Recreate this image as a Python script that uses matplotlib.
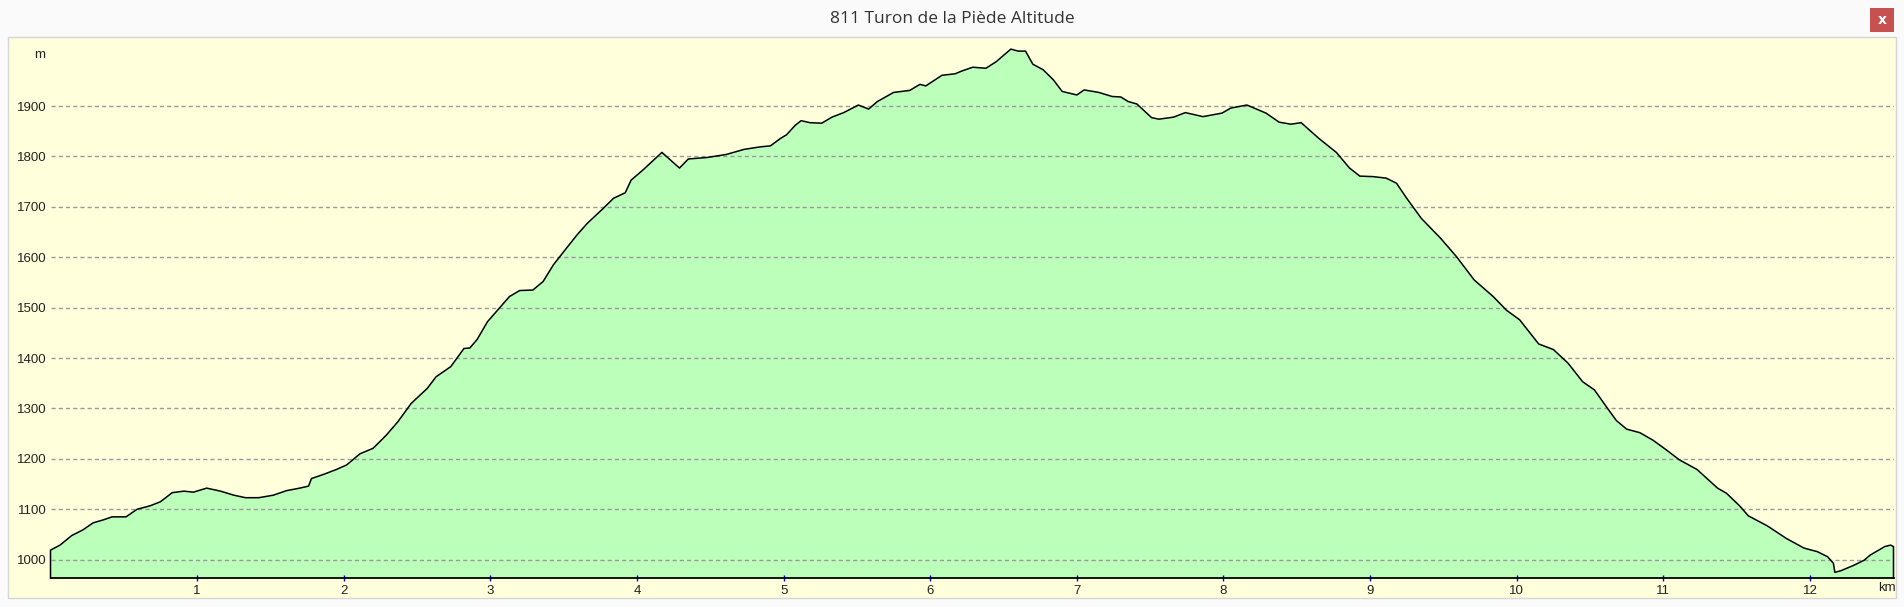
import matplotlib
matplotlib.use("Agg")
import matplotlib.pyplot as plt
from matplotlib.patches import Rectangle

# --- datos del perfil ---
km = [0.00, 0.065, 0.145, 0.22, 0.29, 0.36, 0.42, 0.515, 0.59, 0.68, 0.75, 0.83,
      0.91, 0.975, 1.065, 1.16, 1.25, 1.33, 1.42, 1.52, 1.61, 1.70, 1.76, 1.78,
      1.86, 1.95, 2.02, 2.11, 2.20, 2.29, 2.37, 2.46, 2.57, 2.63, 2.73, 2.82,
      2.86, 2.91, 2.98, 3.07, 3.13, 3.20, 3.29, 3.36, 3.43, 3.50, 3.59, 3.66,
      3.77, 3.84, 3.92, 3.96, 4.04, 4.11, 4.17, 4.29, 4.35, 4.48, 4.61, 4.73,
      4.84, 4.91, 4.98, 5.02, 5.08, 5.12, 5.18, 5.26, 5.33, 5.41, 5.51, 5.58,
      5.64, 5.75, 5.86, 5.93, 5.97, 6.08, 6.17, 6.22, 6.29, 6.38, 6.45, 6.51,
      6.55, 6.60, 6.65, 6.70, 6.77, 6.84, 6.90, 7.00, 7.05, 7.15, 7.24, 7.30,
      7.35, 7.41, 7.51, 7.56, 7.66, 7.74, 7.86, 7.99, 8.05, 8.16, 8.25, 8.29,
      8.38, 8.46, 8.53, 8.65, 8.77, 8.86, 8.93, 9.02, 9.11, 9.18, 9.25, 9.35,
      9.48, 9.59, 9.71, 9.84, 9.93, 10.02, 10.15, 10.25, 10.35, 10.45, 10.53,
      10.62, 10.68, 10.75, 10.84, 10.93, 11.02, 11.11, 11.23, 11.37, 11.43,
      11.52, 11.58, 11.71, 11.84, 11.96, 12.05, 12.12, 12.16, 12.17, 12.21,
      12.30, 12.37, 12.41, 12.51, 12.55, 12.57]
altitud = [1019, 1029, 1048, 1059, 1073, 1079, 1085, 1085, 1100, 1107, 1115, 1133,
           1136, 1134, 1142, 1136, 1128, 1123, 1123, 1128, 1137, 1142, 1146, 1161,
           1169, 1179, 1188, 1210, 1221, 1247, 1274, 1310, 1340, 1363, 1383, 1419,
           1420, 1437, 1472, 1502, 1522, 1534, 1535, 1552, 1585, 1611, 1644, 1667,
           1697, 1717, 1728, 1753, 1773, 1792, 1808, 1777, 1795, 1798, 1804, 1814,
           1819, 1821, 1836, 1843, 1862, 1871, 1867, 1866, 1878, 1887, 1902, 1894,
           1909, 1927, 1931, 1943, 1940, 1961, 1964, 1970, 1977, 1975, 1988, 2003,
           2013, 2009, 2009, 1983, 1972, 1952, 1929, 1922, 1932, 1927, 1919, 1918,
           1909, 1904, 1877, 1874, 1878, 1887, 1879, 1886, 1896, 1902, 1891, 1886,
           1868, 1864, 1867, 1836, 1808, 1777, 1761, 1760, 1757, 1747, 1717, 1677,
           1638, 1601, 1555, 1522, 1495, 1476, 1428, 1417, 1390, 1353, 1337,
           1300, 1276, 1259, 1252, 1237, 1218, 1198, 1179, 1142, 1132,
           1107, 1087, 1067, 1042, 1023, 1016, 1006, 993, 975, 978,
           989, 999, 1009, 1026, 1029, 1026]

y_ticks = [1000, 1100, 1200, 1300, 1400, 1500, 1600, 1700, 1800, 1900]
x_ticks = list(range(1, 13))
titulo = "811 Turon de la Pi\u00e8de Altitude"

W, H = 1904, 607
y_min, y_max = 963.7, 2035.0
x_max = km[-1]

fig = plt.figure(figsize=(W / 100, H / 100), dpi=100, facecolor="#fafafa")

def fx(px):
    return px / W

def fy(py):
    return 1 - py / H

# panel amarillo (detrás de los ejes)
fig.patches.append(Rectangle((fx(8), fy(598)), fx(1888), 561 / H, transform=fig.transFigure,
                             facecolor="#ffffdc", edgecolor="#d6d6d6", lw=1, zorder=-5))
# botón cerrar
fig.patches.append(Rectangle((fx(1870), fy(32)), fx(24), 24 / H, transform=fig.transFigure,
                             facecolor="#c75050", edgecolor="none", zorder=-4))
fig.text(fx(1882), fy(20), "x", color="white", fontsize=10, fontweight="bold",
         ha="center", va="center", family="DejaVu Sans")

fig.text(0.5, fy(19), titulo, ha="center", va="center", fontsize=12.5,
         color="#333333", family="Open Sans")

ax = fig.add_axes([fx(50.5), fy(578), fx(1893.5 - 50.5), (578 - 38) / H])
ax.set_zorder(1)
ax.set_facecolor("none")
ax.set_xlim(0, x_max)
ax.set_ylim(y_min, y_max)

xs = [0] + km + [x_max]
ys = [y_min] + altitud + [y_min]
ax.fill(xs, ys, facecolor="#bbffbb", edgecolor="none", zorder=1)
ax.plot(xs, ys, color="black", lw=1.1, zorder=3, clip_on=False)

ax.set_yticks(y_ticks)
ax.set_xticks(x_ticks)
ax.yaxis.grid(True, linestyle=(0, (3, 2.2)), color="#9a9a9a", lw=1)
ax.set_axisbelow(False)
for g in ax.get_ygridlines():
    g.set_zorder(2)

for s in ["top", "right", "left"]:
    ax.spines[s].set_visible(False)
ax.spines["bottom"].set_color("black")
ax.spines["bottom"].set_linewidth(1.3)
ax.spines["bottom"].set_zorder(4)

ax.tick_params(axis="y", length=0, pad=2.5, labelsize=9.5, labelcolor="#222222")
ax.tick_params(axis="x", direction="inout", length=4, width=1, color="#0000ff",
               pad=3, labelsize=9.5, labelcolor="#222222")
for lab in ax.get_xticklabels() + ax.get_yticklabels():
    lab.set_family("Liberation Sans")

fig.text(fx(40), fy(55), "m", ha="center", va="center", fontsize=9.5,
         color="#222222", family="Liberation Sans")
fig.text(fx(1887), fy(588), "km", ha="center", va="center", fontsize=9.5,
         color="#222222", family="Liberation Sans")

fig.savefig("out.png", dpi=100, facecolor=fig.get_facecolor())
